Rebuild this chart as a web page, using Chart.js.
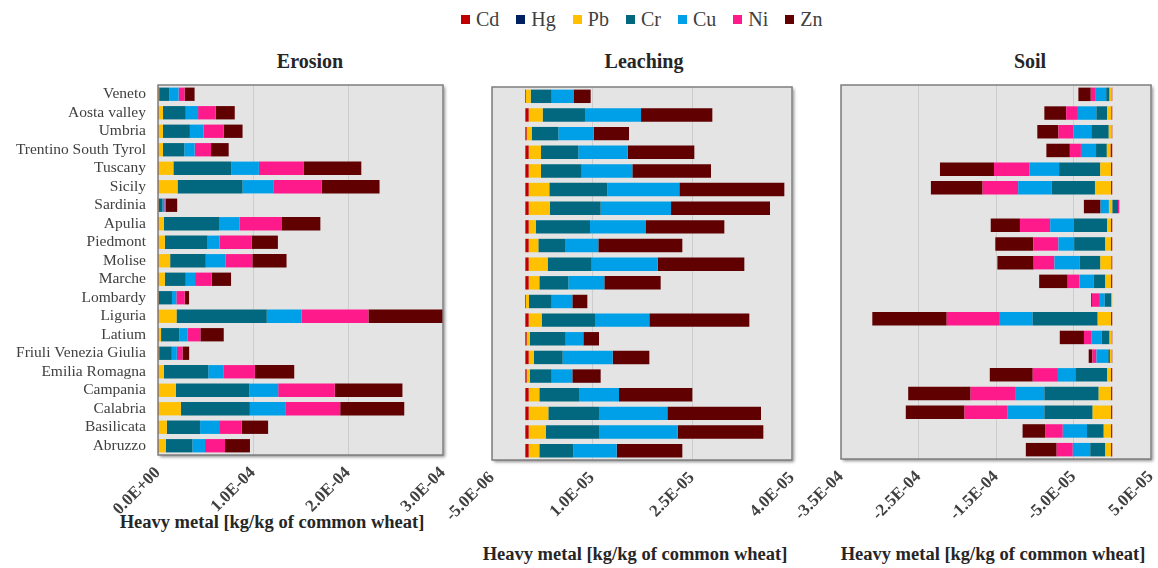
<!DOCTYPE html>
<html>
<head>
<meta charset="utf-8">
<title>Heavy metals</title>
<script src="https://cdn.jsdelivr.net/npm/chart.js@4.4.1/dist/chart.umd.min.js"></script>
<style>
  body { margin: 0; width: 1158px; height: 568px; background: #fff; position: relative; overflow: hidden;
         font-family: "Liberation Serif", "Times New Roman", serif; color: #404040; }
  canvas { position: absolute; }
  .lbl { position: absolute; text-align: center; font-weight: bold; white-space: nowrap; color: #262626; }
  #legend { position: absolute; top: 8px; left: 461px; display: flex; font-size: 20px; color: #404040; }
  #legend span.item { display: flex; align-items: center; margin-right: 17px; }
  #legend span.box { width: 9px; height: 9px; margin-right: 6px; display: inline-block; }
</style>
</head>
<body>
<div id="legend"></div>
<div class="lbl" style="left:210px;top:50px;width:200px;font-size:20px;">Erosion</div>
<div class="lbl" style="left:544px;top:50px;width:200px;font-size:20px;">Leaching</div>
<div class="lbl" style="left:930px;top:50px;width:200px;font-size:20px;">Soil</div>
<div class="lbl" style="left:72px;top:512px;width:400px;font-size:18.5px;">Heavy metal [kg/kg of common wheat]</div>
<div class="lbl" style="left:435px;top:544px;width:400px;font-size:18.5px;">Heavy metal [kg/kg of common wheat]</div>
<div class="lbl" style="left:793px;top:544px;width:400px;font-size:18.5px;">Heavy metal [kg/kg of common wheat]</div>

<canvas id="erosionChart" width="467" height="494" style="left:0px;top:61px;"></canvas>
<canvas id="leachingChart" width="396" height="497" style="left:420px;top:63px;"></canvas>
<canvas id="soilChart" width="395" height="498" style="left:780px;top:61px;"></canvas>

<script>
const regions = ["Veneto", "Aosta valley", "Umbria", "Trentino South Tyrol", "Tuscany", "Sicily", "Sardinia",
  "Apulia", "Piedmont", "Molise", "Marche", "Lombardy", "Liguria", "Latium", "Friuli Venezia Giulia",
  "Emilia Romagna", "Campania", "Calabria", "Basilicata", "Abruzzo"];

const metals = ["Cd", "Hg", "Pb", "Cr", "Cu", "Ni", "Zn"];
const metalColors = ['#c00000', '#002060', '#ffc000', '#01687f', '#00a0e8', '#ff1a8c', '#600000'];

// all values in units of 1E-05 kg/kg of common wheat
const erosionCd = [0.02, 0.02, 0.02, 0.02, 0.02, 0.02, 0.02, 0.02, 0.02, 0.02, 0.02, 0.02, 0.02, 0.02, 0.02, 0.02, 0.02, 0.02, 0.02, 0.02];
const erosionHg = [0, 0, 0, 0, 0, 0, 0, 0, 0, 0, 0, 0, 0, 0, 0, 0, 0, 0, 0, 0];
const erosionPb = [0.1, 0.5, 0.5, 0.5, 1.6, 2.04, 0.05, 0.6, 0.7, 1.26, 0.7, 0.05, 1.93, 0.3, 0.1, 0.6, 1.86, 2.39, 0.91, 0.8];
const erosionCr = [1.05, 2.4, 2.84, 2.25, 6.1, 6.84, 0.4, 5.8, 4.5, 3.75, 2.2, 1.4, 9.5, 1.93, 1.33, 4.67, 7.72, 7.26, 3.5, 2.8];
const erosionCu = [1.0, 1.3, 1.44, 1.09, 2.9, 3.23, 0.2, 2.18, 1.26, 2.1, 0.98, 0.46, 3.65, 0.88, 0.53, 1.58, 3.05, 3.79, 2.0, 1.33];
const erosionNi = [0.63, 1.86, 2.1, 1.72, 4.74, 5.09, 0.15, 4.39, 3.4, 2.8, 1.75, 0.88, 7.05, 1.33, 0.6, 3.33, 5.96, 5.72, 2.39, 2.1];
const erosionZn = [1.05, 2.0, 2.0, 1.86, 6.04, 6.1, 1.2, 4.1, 2.74, 3.6, 2.04, 0.46, 7.9, 2.46, 0.7, 4.14, 7.12, 6.74, 2.77, 2.63];

const leachingCd = [0.01, 0.05, 0.02, 0.05, 0.05, 0.05, 0.05, 0.05, 0.05, 0.05, 0.05, 0.01, 0.05, 0.02, 0.05, 0.02, 0.05, 0.05, 0.05, 0.05];
const leachingHg = [0, 0, 0, 0, 0, 0, 0, 0, 0, 0, 0, 0, 0, 0, 0, 0, 0, 0, 0, 0];
const leachingPb = [0.07, 0.21, 0.075, 0.185, 0.185, 0.31, 0.32, 0.11, 0.145, 0.285, 0.16, 0.045, 0.195, 0.05, 0.08, 0.05, 0.16, 0.295, 0.26, 0.16];
const leachingCr = [0.315, 0.635, 0.4, 0.56, 0.61, 0.87, 0.76, 0.81, 0.4, 0.66, 0.435, 0.34, 0.8, 0.535, 0.43, 0.325, 0.595, 0.76, 0.795, 0.51];
const leachingCu = [0.335, 0.84, 0.53, 0.74, 0.76, 1.08, 1.055, 0.84, 0.5, 0.99, 0.54, 0.31, 0.815, 0.265, 0.75, 0.31, 0.6, 1.025, 1.18, 0.65];
const leachingNi = [0, 0, 0, 0, 0, 0, 0, 0, 0, 0, 0, 0, 0, 0, 0, 0, 0, 0, 0, 0];
const leachingZn = [0.25, 1.07, 0.53, 1.0, 1.18, 1.575, 1.485, 1.175, 1.26, 1.3, 0.845, 0.225, 1.5, 0.235, 0.55, 0.425, 1.1, 1.405, 1.285, 0.985];

const soilCd = [-0.05, -0.1, -0.05, -0.2, -0.15, -0.15, 0, -0.15, -0.15, -0.1, -0.15, 0, -0.15, -0.05, -0.05, -0.15, -0.15, -0.15, -0.15, -0.15];
const soilHg = [0, 0, 0, 0, 0, 0, 0, 0, 0, 0, 0, 0, 0, 0, 0, 0, 0, 0, 0, 0];
const soilPb = [-0.3, -0.56, -0.4, -0.5, -1.39, -2.08, -0.43, -0.5, -0.74, -1.43, -0.74, -0.1, -1.73, -0.3, -0.25, -0.5, -1.6, -2.38, -0.95, -0.74];
const soilCr = [-0.43, -1.39, -2.25, -1.39, -5.32, -5.58, 0.74, -4.33, -4.03, -2.68, -1.52, -0.87, -8.4, -1.0, -0.22, -4.11, -7.01, -6.23, -2.16, -1.95];
const soilCu = [-1.34, -2.38, -2.29, -1.95, -3.85, -4.33, -1.08, -3.03, -2.03, -3.25, -1.82, -0.74, -4.33, -1.3, -1.52, -2.25, -3.68, -4.8, -3.12, -2.25];
const soilNi = [-0.65, -1.52, -1.95, -1.43, -4.55, -4.59, 0.17, -3.9, -3.25, -2.68, -1.52, -0.91, -6.75, -1.0, -0.52, -3.25, -5.84, -5.5, -2.29, -2.08];
const soilZn = [-1.6, -2.81, -2.73, -3.03, -6.97, -6.67, -2.15, -3.77, -4.89, -4.68, -3.68, -0.1, -9.6, -3.12, -0.48, -5.54, -8.05, -7.58, -2.9, -3.98];

const erosionTicks = [0, 10, 20, 30];
const erosionTickLabels = ["0.0E+00", "1.0E-04", "2.0E-04", "3.0E-04"];
const leachingTicks = [-0.5, 1, 2.5, 4];
const leachingTickLabels = ["-5.0E-06", "1.0E-05", "2.5E-05", "4.0E-05"];
const soilTicks = [-35, -25, -15, -5, 5];
const soilTickLabels = ["-3.5E-04", "-2.5E-04", "-1.5E-04", "-5.0E-05", "5.0E-05"];

Chart.defaults.font.family = '"Liberation Serif", "Times New Roman", serif';
Chart.defaults.color = '#404040';
Chart.defaults.animation = false;

// legend (shared by the three panels)
const legendEl = document.getElementById('legend');
metals.forEach((m, i) => {
  const item = document.createElement('span');
  item.className = 'item';
  item.innerHTML = '<span class="box" style="background:' + metalColors[i] + '"></span>' + m;
  legendEl.appendChild(item);
});

// grey plot box with a soft shadow, like the spreadsheet chart
const plotBox = {
  id: 'plotBox',
  beforeDraw(chart) {
    const ctx = chart.ctx, a = chart.chartArea;
    ctx.save();
    ctx.shadowColor = 'rgba(0,0,0,0.45)';
    ctx.shadowOffsetX = 2;
    ctx.shadowOffsetY = 2;
    ctx.shadowBlur = 3;
    ctx.fillStyle = '#e4e4e4';
    ctx.fillRect(a.left, a.top, a.width, a.height);
    ctx.restore();
  },
  afterDraw(chart) {
    const ctx = chart.ctx, a = chart.chartArea;
    ctx.save();
    ctx.strokeStyle = '#7f7f7f';
    ctx.lineWidth = 1.5;
    ctx.strokeRect(a.left, a.top, a.width, a.height);
    ctx.restore();
  }
};

// padding of 24 is larger than what the rotated tick labels ask for, so the plot box lands where we want it
const makePanel = (id, series, min, max, ticks, tickLabels, yWidth, showNames) => {
  const datasets = series.map((values, i) => ({
    label: metals[i],
    data: values,
    backgroundColor: metalColors[i],
    borderWidth: 0,
    barPercentage: 0.72,
    categoryPercentage: 1
  }));
  return new Chart(document.getElementById(id), {
    type: 'bar',
    data: { labels: regions, datasets: datasets },
    plugins: [plotBox],
    options: {
      indexAxis: 'y',
      responsive: false,
      layout: { padding: { top: 24, right: 24, left: 0, bottom: 0 } },
      plugins: { legend: { display: false }, tooltip: { enabled: false } },
      scales: {
        x: {
          stacked: true,
          min: min,
          max: max,
          afterBuildTicks: (scale) => { scale.ticks = ticks.map(v => ({ value: v })); },
          afterFit: (scale) => { scale.height = 100; },
          ticks: {
            autoSkip: false,
            minRotation: 45,
            maxRotation: 45,
            padding: 8,
            color: '#404040',
            font: { size: 17, weight: 'bold' },
            callback: (value, index) => tickLabels[index]
          },
          grid: { color: '#cdcdcd', drawTicks: false },
          border: { display: false }
        },
        y: {
          stacked: true,
          afterFit: (scale) => { scale.width = yWidth; },
          ticks: { display: showNames, padding: 12, color: '#404040', font: { size: 15.5 }, autoSkip: false },
          grid: { display: false, drawTicks: false },
          border: { display: false }
        }
      }
    }
  });
};

const erosion = makePanel('erosionChart',
  [erosionCd, erosionHg, erosionPb, erosionCr, erosionCu, erosionNi, erosionZn],
  0, 30, erosionTicks, erosionTickLabels, 158, true);
const leaching = makePanel('leachingChart',
  [leachingCd, leachingHg, leachingPb, leachingCr, leachingCu, leachingNi, leachingZn],
  -0.5, 4, leachingTicks, leachingTickLabels, 72, false);
const soil = makePanel('soilChart',
  [soilCd, soilHg, soilPb, soilCr, soilCu, soilNi, soilZn],
  -35, 5, soilTicks, soilTickLabels, 61, false);
</script>
</body>
</html>
